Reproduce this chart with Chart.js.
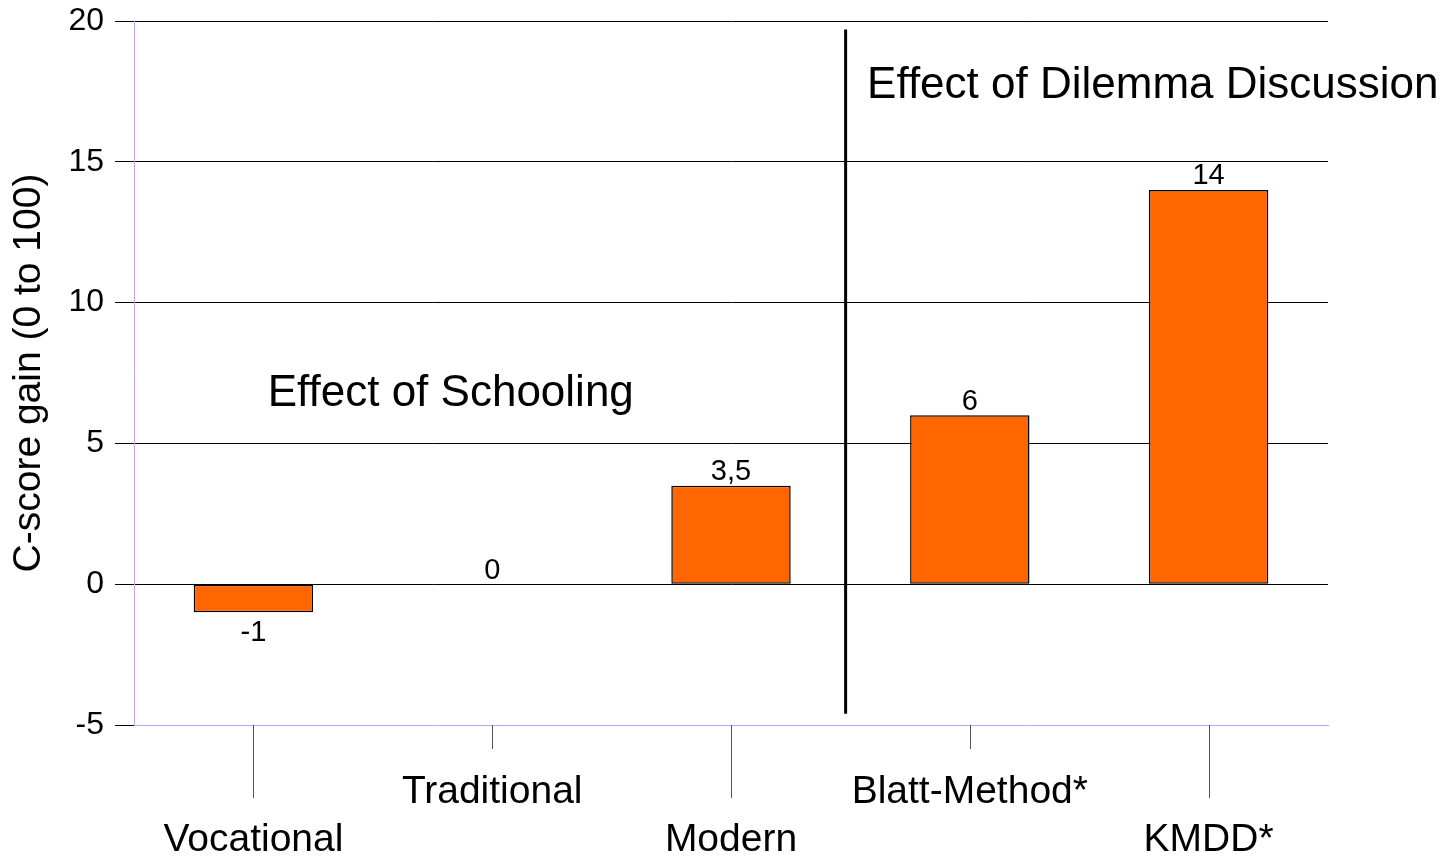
<!DOCTYPE html>
<html>
<head>
<meta charset="utf-8">
<script src="https://cdn.jsdelivr.net/npm/chart.js@4/dist/chart.umd.min.js"></script>
<style>
  html, body { margin: 0; padding: 0; background: #fff; }
  canvas { display: block; }
</style>
</head>
<body>
<canvas id="gainChart" width="1444" height="860"></canvas>
<script>
// data
const categories = ['Vocational', 'Traditional', 'Modern', 'Blatt-Method*', 'KMDD*'];
const labelRows = [1, 0, 1, 0, 1]; // 0 = upper label row, 1 = lower row
const gains = [-1, 0, 3.5, 6, 14];
const yTicks = [-5, 0, 5, 10, 15, 20];

const FONT = '"Liberation Sans", Arial, sans-serif';
const AXIS_PURPLE = '#c4a2ee';

// value labels, separator line, section captions, staggered category ticks
const extrasPlugin = {
    id: 'extras',
    afterDatasetsDraw(chart) {
        const { ctx, scales: { x, y } } = chart;
        const meta = chart.getDatasetMeta(0);
        ctx.save();

        // value labels
        ctx.fillStyle = '#000';
        ctx.font = `29px ${FONT}`;
        ctx.textAlign = 'center';
        meta.data.forEach((bar, i) => {
            const v = gains[i];
            const txt = String(v).replace('.', ',');
            if (v < 0) {
                ctx.textBaseline = 'top';
                ctx.fillText(txt, bar.x, bar.y + 6);
            } else {
                ctx.textBaseline = 'bottom';
                ctx.fillText(txt, bar.x, bar.y + 1);
            }
        });

        // divider between schooling and dilemma discussion
        const divX = x.getPixelForValue(2.48);
        ctx.strokeStyle = '#000';
        ctx.lineWidth = 3;
        ctx.beginPath();
        ctx.moveTo(divX, y.getPixelForValue(19.7));
        ctx.lineTo(divX, y.getPixelForValue(-4.6));
        ctx.stroke();

        // captions
        ctx.font = `44px ${FONT}`;
        ctx.textAlign = 'left';
        ctx.textBaseline = 'middle';
        ctx.fillText('Effect of Schooling', x.getPixelForValue(0.06), y.getPixelForValue(6.75));
        ctx.fillText('Effect of Dilemma Discussion', x.getPixelForValue(2.57), y.getPixelForValue(17.7));

        // category tick lines below the axis
        ctx.strokeStyle = '#555';
        ctx.lineWidth = 1;
        categories.forEach((c, i) => {
            const px = Math.round(x.getPixelForTick(i)) + 0.5;
            const len = labelRows[i] ? 73 : 24;
            ctx.beginPath();
            ctx.moveTo(px, x.top);
            ctx.lineTo(px, x.top + len);
            ctx.stroke();
        });
        ctx.restore();
    }
};

const ctx = document.getElementById('gainChart').getContext('2d');
new Chart(ctx, {
    type: 'bar',
    data: {
        labels: categories,
        datasets: [{
            data: gains,
            backgroundColor: '#ff6600',
            borderColor: '#000',
            borderWidth: 1.5,
            borderSkipped: false,
            categoryPercentage: 1,
            barPercentage: 0.5
        }]
    },
    options: {
        responsive: false,
        animation: false,
        devicePixelRatio: 1,
        layout: { padding: { left: 0, right: 116, top: 21, bottom: 0 } },
        plugins: {
            legend: { display: false },
            tooltip: { enabled: false }
        },
        scales: {
            x: {
                grid: { display: false },
                border: { display: true, color: AXIS_PURPLE, width: 1 },
                afterFit: (scale) => { scale.height = 135; },
                ticks: {
                    color: '#000',
                    font: { family: FONT, size: 39, lineHeight: 1.23 },
                    padding: 35,
                    maxRotation: 0,
                    autoSkip: false,
                    callback: (val, i) => labelRows[i] ? ['', categories[i]] : [categories[i], '']
                }
            },
            y: {
                min: -5,
                max: 20,
                afterFit: (scale) => { scale.width = 134; },
                afterBuildTicks: (scale) => { scale.ticks = yTicks.map(v => ({ value: v })); },
                grid: {
                    color: (c) => c.tick && c.tick.value === -5 ? 'rgba(0,0,0,0)' : '#000',
                    tickColor: '#000',
                    lineWidth: 1,
                    tickLength: 19
                },
                border: { display: true, color: AXIS_PURPLE, width: 1 },
                ticks: {
                    color: '#000',
                    font: { family: FONT, size: 32, lineHeight: 0.5 },
                    padding: 11
                },
                title: {
                    display: true,
                    text: 'C-score gain (0 to 100)',
                    color: '#000',
                    font: { family: FONT, size: 39 },
                    padding: { top: 6, bottom: 0 }
                }
            }
        }
    },
    plugins: [extrasPlugin]
});
</script>
</body>
</html>
